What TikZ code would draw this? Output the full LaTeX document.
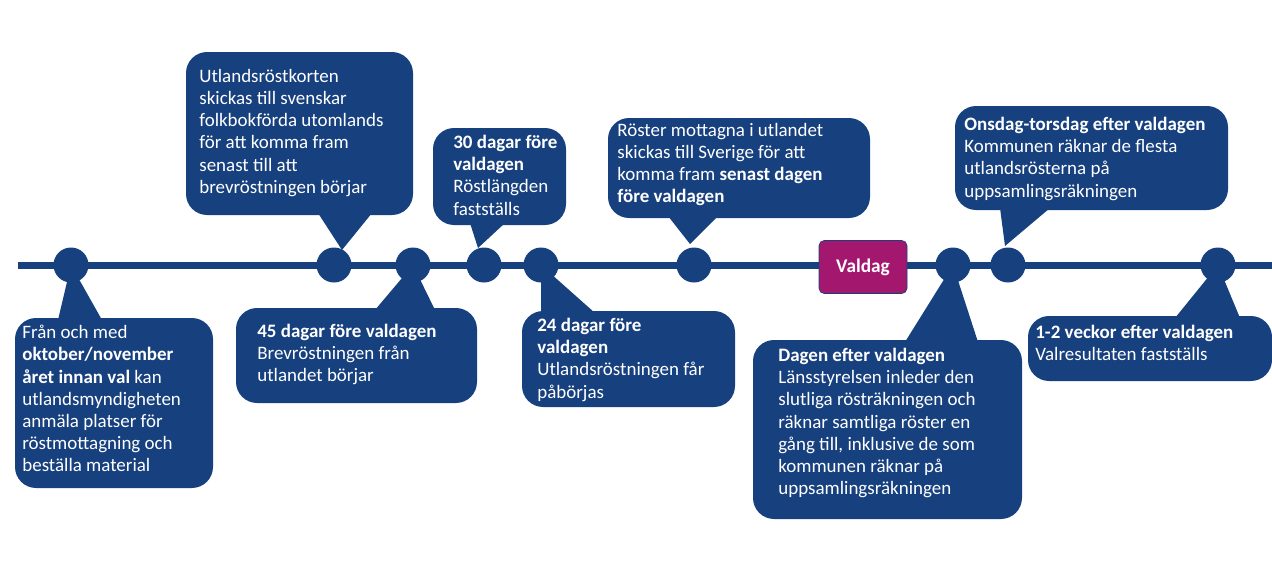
\documentclass[tikz,border=0pt]{standalone}
\usepackage{fontspec}
\setmainfont{Carlito}
\usetikzlibrary{positioning}
\definecolor{navy}{HTML}{17407F}
\definecolor{plum}{HTML}{A3176F}
\tikzset{
  bubble/.style={fill=navy, rounded corners=12pt},
  dot/.style={circle, fill=navy, minimum size=35\unitpx, inner sep=0pt},
  say/.style={anchor=north west, text=white, align=left, inner sep=0pt,
    font=\fontsize{10.8}{12.6}\selectfont},
}
\newlength{\unitpx}\setlength{\unitpx}{0.02cm}
\begin{document}
\begin{tikzpicture}[x=0.02cm,y=-0.02cm]
          \useasboundingbox (0,0) rectangle (1272,572);
          % time line and dots
          \draw[navy, line width=7\unitpx] (18,265) -- (1272,265);
          \foreach \n/\x in {a/71,b/334,c/413,d/484,e/541,f/694,g/953,h/1008,i/1218}
              \node[dot] (\n) at (\x,265) {};
          \node[fill=plum, draw=navy, rounded corners=3pt, minimum width=88\unitpx,
                minimum height=53\unitpx, text=white, font=\bfseries\fontsize{11}{13}\selectfont]
                (valdag) at (863,267) {Valdag};

          % bubbles below the line
          \fill[bubble] (15,318) rectangle (213,488);
          \fill[navy] (58,320) -- (a.center) -- (102,320) -- cycle;
          \node[say] (t1) at (22,325) {Från och med\\\textbf{oktober/november}\\\textbf{året innan val} kan\\utlandsmyndigheten\\anmäla platser för\\röstmottagning och\\beställa material};

          \fill[bubble] (236,308) rectangle (477,403);
          \fill[navy] (375,310) -- (c.center) -- (435,310) -- cycle;
          \node[say] (t2) at (257,324) {\textbf{45 dagar före valdagen}\\Brevröstningen från\\utlandet börjar};

          \fill[bubble] (522,311) rectangle (735,407);
          \fill[navy] (541,313) -- (e.center) -- (595,313) -- cycle;
          \node[say] (t3) at (537,318) {\textbf{24 dagar före}\\\textbf{valdagen}\\Utlandsröstningen får\\påbörjas};

          \fill[bubble] (753,340) rectangle (1022,519);
          \fill[navy] (905,342) -- (g.center) -- (978,342) -- cycle;
          \node[say] (t4) at (778,348) {\textbf{Dagen efter valdagen}\\Länsstyrelsen inleder den\\slutliga rösträkningen och\\räknar samtliga röster en\\gång till, inklusive de som\\kommunen räknar på\\uppsamlingsräkningen};

          \fill[bubble] (1028,316) rectangle (1272,381);
          \fill[navy] (1175,318) -- (i.center) -- (1240,318) -- cycle;
          \node[say] (t5) at (1035,325) {\textbf{1-2 veckor efter valdagen}\\Valresultaten fastställs};

          % bubbles above the line
          \fill[bubble] (186,52) rectangle (413,215);
          \fill[navy] (318,213) -- (342,250) -- (372,213) -- cycle;
          \node[say] (t6) at (199,69) {Utlandsröstkorten\\skickas till svenskar\\folkbokförda utomlands\\för att komma fram\\senast till att\\brevröstningen börjar};

          \fill[bubble] (433,128) rectangle (566,225);
          \fill[navy] (470,223) -- (478,248) -- (505,223) -- cycle;
          \node[say] (t7) at (453,135) {\textbf{30 dagar före}\\\textbf{valdagen}\\Röstlängden\\fastställs};

          \fill[bubble] (608,118) rectangle (870,218);
          \fill[navy] (668,216) -- (690,244) -- (718,216) -- cycle;
          \node[say] (t8) at (617,123) {Röster mottagna i utlandet\\skickas till Sverige för att\\komma fram \textbf{senast dagen}\\\textbf{före valdagen}};

          \fill[bubble] (955,106) rectangle (1228,210);
          \fill[navy] (1000,208) -- (1005,246) -- (1050,208) -- cycle;
          \node[say] (t9) at (964,117) {\textbf{Onsdag-torsdag efter valdagen}\\Kommunen räknar de flesta\\utlandsrösterna på\\uppsamlingsräkningen};
\end{tikzpicture}
\end{document}
